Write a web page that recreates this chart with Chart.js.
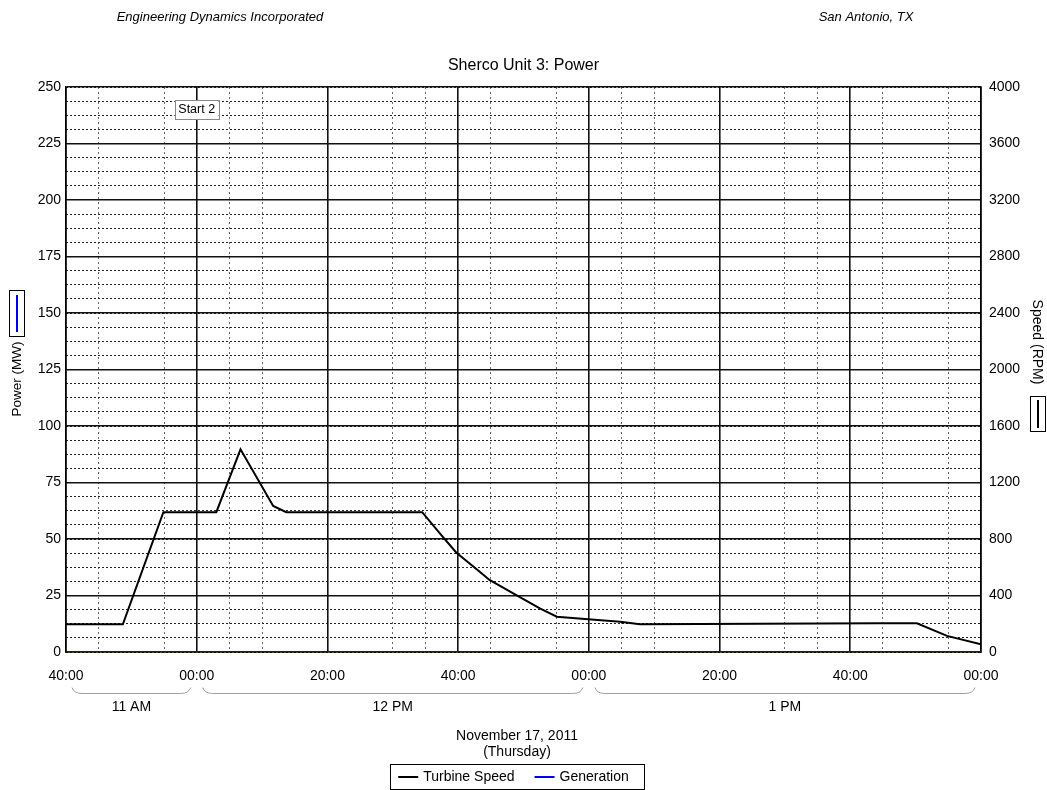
<!DOCTYPE html>
<html><head><meta charset="utf-8">
<script src="https://cdn.jsdelivr.net/npm/chart.js@4.4.1/dist/chart.umd.min.js"></script>
<style>html,body{margin:0;padding:0;background:#fff;}#wrap{width:1047px;height:790px;position:relative;}</style>
</head><body><div id="wrap"><canvas id="c"></canvas></div>
<script>
// ---- data (minutes after 11:40) ----
const minutes = [0, 8.7, 14.9, 23, 26.7, 31.7, 33.7, 54.5, 57.2, 59.7, 63.3, 64.8, 68.9, 72.5, 75.1, 79.9, 84.8, 87.8, 124.2, 130.2, 134.8, 140];
const turbineSpeedRpm = [196, 196, 990, 990, 1435, 1034, 990, 990, 840, 705, 568, 510, 403, 309, 250, 232, 214, 196, 203, 203, 114, 54];
const generationMw = [0, 0, 0, 0, 0, 0, 0, 0, 0, 0, 0, 0, 0, 0, 0, 0, 0, 0, 0, 0, 0, 0];
const xTickMinutes = [0, 20, 40, 60, 80, 100, 120, 140];
const xTickLabels = ['40:00', '00:00', '20:00', '40:00', '00:00', '20:00', '40:00', '00:00'];
const xMinorMinutes = [5, 15, 25, 30, 50, 55, 65, 75, 85, 90, 110, 115, 125, 135];
const hourLabels = ['11 AM', '12 PM', '1 PM'];
const hourStart = [0, 20, 80];
const hourEnd = [20, 80, 140];
const eventLabels = ['Start 2'];
const eventMinutes = [20];
const dateLines = ['November 17, 2011', '(Thursday)'];
const FONT = '"Liberation Sans", Arial, sans-serif';

const decor = {
  id: 'decor',
  afterDatasetsDraw(chart) {
    const ctx = chart.ctx, xs = chart.scales.x;
    ctx.save();
    ctx.font = '12.5px ' + FONT;
    ctx.textAlign = 'center'; ctx.textBaseline = 'middle';
    eventLabels.forEach((lab, i) => {
      const x = xs.getPixelForValue(eventMinutes[i]);
      const w = ctx.measureText(lab).width + 7;
      ctx.fillStyle = '#fff';
      ctx.fillRect(x - w / 2, 100, w, 19);
      ctx.strokeStyle = '#888'; ctx.lineWidth = 1;
      ctx.strokeRect(Math.round(x - w / 2) + 0.5, 100.5, Math.round(w), 19);
      ctx.fillStyle = '#000';
      ctx.fillText(lab, x, 110);
    });
    ctx.restore();
  },
  afterDraw(chart) {
    const ctx = chart.ctx, xs = chart.scales.x, a = chart.chartArea;
    const ds = chart.data.datasets;
    ctx.save();
    ctx.fillStyle = '#000';
    ctx.textBaseline = 'middle'; ctx.textAlign = 'center';
    ctx.font = 'italic 13px ' + FONT;
    ctx.fillText('Engineering Dynamics Incorporated', 220, 17);
    ctx.fillText('San Antonio, TX', 866, 17);
    ctx.font = '16px ' + FONT;
    ctx.fillText('Sherco Unit 3: Power', (a.left + a.right) / 2, 66);
    // hour brackets
    ctx.font = '14px ' + FONT;
    hourLabels.forEach((lab, i) => {
      const x0 = xs.getPixelForValue(hourStart[i]) + 6;
      const x1 = xs.getPixelForValue(hourEnd[i]) - 6;
      ctx.strokeStyle = '#a0a0a0'; ctx.lineWidth = 1;
      ctx.beginPath();
      ctx.moveTo(x0, 687.5);
      ctx.quadraticCurveTo(x0 + 2, 693.5, x0 + 10, 693.5);
      ctx.lineTo(x1 - 10, 693.5);
      ctx.quadraticCurveTo(x1 - 2, 693.5, x1, 687.5);
      ctx.stroke();
      ctx.fillStyle = '#000';
      ctx.fillText(lab, (x0 + x1) / 2, 707);
    });
    const cx = 517;
    ctx.fillText(dateLines[0], cx, 736);
    ctx.fillText(dateLines[1], cx, 752);
    // legend
    ctx.font = '14px ' + FONT;
    const items = ds.map(d => ({ t: d.label, c: d.borderColor, w: ctx.measureText(d.label).width }));
    const lineLen = 20, gap1 = 5, gapItem = 20, padL = 8, padR = 15;
    let total = padL + padR;
    items.forEach((it, i) => { total += lineLen + gap1 + it.w + (i < items.length - 1 ? gapItem : 0); });
    let lx = cx - total / 2;
    ctx.strokeStyle = '#000'; ctx.lineWidth = 1;
    ctx.strokeRect(Math.round(lx) + 0.5, 764.5, Math.round(total), 25);
    let px = lx + padL;
    ctx.textAlign = 'left';
    items.forEach((it, i) => {
      ctx.strokeStyle = it.c; ctx.lineWidth = 2;
      ctx.beginPath(); ctx.moveTo(px, 777); ctx.lineTo(px + lineLen, 777); ctx.stroke();
      px += lineLen + gap1;
      ctx.fillStyle = '#000';
      ctx.fillText(it.t, px, 777);
      px += it.w + gapItem;
    });
    // axis titles
    ctx.textAlign = 'center';
    ctx.font = '13.5px ' + FONT;
    ctx.save();
    ctx.translate(17, 379); ctx.rotate(-Math.PI / 2);
    ctx.fillText('Power (MW)', 0, 0);
    ctx.restore();
    ctx.strokeStyle = '#000'; ctx.lineWidth = 1;
    ctx.strokeRect(9.5, 290.5, 15, 46);
    ctx.strokeStyle = ds[1].borderColor; ctx.lineWidth = 2;
    ctx.beginPath(); ctx.moveTo(17, 295); ctx.lineTo(17, 332); ctx.stroke();
    ctx.font = '14px ' + FONT;
    ctx.save();
    ctx.translate(1037, 342); ctx.rotate(Math.PI / 2);
    ctx.fillStyle = '#000';
    ctx.fillText('Speed (RPM)', 0, 0);
    ctx.restore();
    ctx.strokeStyle = '#000'; ctx.lineWidth = 1;
    ctx.strokeRect(1030.5, 396.5, 15, 35);
    ctx.strokeStyle = ds[0].borderColor; ctx.lineWidth = 2;
    ctx.beginPath(); ctx.moveTo(1038, 400); ctx.lineTo(1038, 428); ctx.stroke();
    ctx.restore();
  }
};

new Chart(document.getElementById('c'), {
  type: 'line',
  data: {
    datasets: [
      { label: 'Turbine Speed', data: minutes.map((m, i) => ({ x: m, y: turbineSpeedRpm[i] })), yAxisID: 'y2', borderColor: '#000000', borderWidth: 2, pointRadius: 0, tension: 0 },
      { label: 'Generation', data: minutes.map((m, i) => ({ x: m, y: generationMw[i] })), yAxisID: 'y', borderColor: '#0000ee', borderWidth: 2, pointRadius: 0, tension: 0 }
    ]
  },
  options: {
    responsive: true, maintainAspectRatio: false, animation: false,
    layout: { padding: { top: 87, left: 0, right: 0, bottom: 0 } },
    plugins: { legend: { display: false }, tooltip: { enabled: false } },
    scales: {
      x: {
        type: 'linear', position: 'bottom', min: 0, max: 140,
        afterBuildTicks: s => { s.ticks = xTickMinutes.map(v => ({ value: v })); },
        afterFit: s => { s.height = 138; },
        grid: { color: '#111', lineWidth: 1.6, drawTicks: false },
        border: { display: true, color: '#000', width: 1.6 },
        ticks: { autoSkip: false, maxRotation: 0, padding: 16, color: '#000', font: { family: FONT, size: 14 },
          callback: v => { const i = xTickMinutes.indexOf(v); return i >= 0 ? xTickLabels[i] : ''; } }
      },
      xMinor: {
        type: 'linear', position: 'top', min: 0, max: 140,
        afterBuildTicks: s => { s.ticks = xMinorMinutes.map(v => ({ value: v })); },
        afterFit: s => { s.height = 0; },
        grid: { color: '#666', lineWidth: 1, drawTicks: false, z: -2 },
        border: { display: false, dash: [2, 3] },
        ticks: { display: false }
      },
      y: {
        type: 'linear', position: 'left', min: 0, max: 250,
        afterFit: s => { s.width = 66; },
        grid: { color: '#111', lineWidth: 1.6, drawTicks: false },
        border: { display: true, color: '#000', width: 1.6 },
        ticks: { stepSize: 25, padding: 5, color: '#000', font: { family: FONT, size: 14 } }
      },
      yMinor: {
        type: 'linear', position: 'left', min: 0, max: 250,
        afterFit: s => { s.width = 0; },
        grid: { color: '#222', lineWidth: 1, drawTicks: false, z: -2 },
        border: { display: false, dash: [2, 2] },
        ticks: { display: false, stepSize: 6.25 }
      },
      y2: {
        type: 'linear', position: 'right', min: 0, max: 4000,
        afterFit: s => { s.width = 66; },
        grid: { drawOnChartArea: false, drawTicks: false },
        border: { display: true, color: '#000', width: 1.6 },
        ticks: { stepSize: 400, padding: 8, color: '#000', font: { family: FONT, size: 14 }, callback: v => String(v) }
      }
    }
  },
  plugins: [decor]
});
</script></body></html>
